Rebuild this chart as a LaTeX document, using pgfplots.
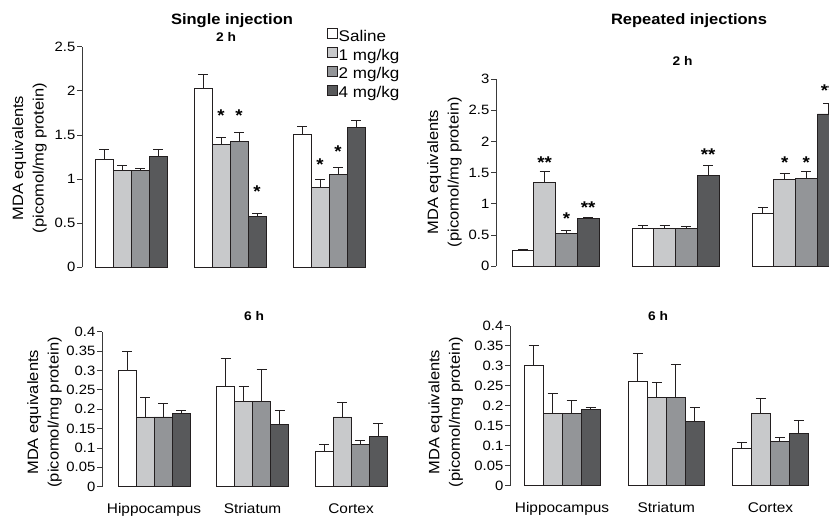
\documentclass[border=0pt]{standalone}
\usepackage{fontspec}
\setmainfont[FakeStretch=1.1]{Liberation Sans}
\usepackage{pgfplots}
\pgfplotsset{compat=1.18}
\definecolor{cA}{HTML}{FFFFFF}
\definecolor{cB}{HTML}{C8C9CB}
\definecolor{cC}{HTML}{939598}
\definecolor{cD}{HTML}{58595B}
\definecolor{edge}{HTML}{231F20}
\definecolor{axisc}{HTML}{3A3A3A}
\tikzset{sigstar/.style={font=\bfseries\fontsize{17}{17}\selectfont, inner sep=0pt, anchor=base, yshift=-9.9pt}}
\pgfplotsset{
  panel/.style={
    scale only axis, anchor=south west, clip=false,
    ybar=0pt,
    axis y line*=left, axis x line*=bottom,
    x axis line style={draw=none},
    y axis line style={draw=axisc, line width=0.8pt},
    xtick style={draw=none},
    ytick style={draw=axisc, line width=0.8pt},
    tick align=outside, major tick length=5pt,
    /pgf/number format/fixed, /pgf/number format/precision=2,
    /pgf/number format/assume math mode=true,
    scaled y ticks=false,
    yticklabel style={font=\fontsize{13.5}{13.5}\selectfont, inner sep=1.5pt},
    xticklabel style={font=\fontsize{14}{14}\selectfont, anchor=base, yshift=-22pt},
    ylabel={MDA equivalents\\(picomol/mg protein)},
    ylabel style={font=\fontsize{15}{20.5}\selectfont, align=center, inner sep=0pt, anchor=south},
  },
  sA/.style={fill=cA, draw=edge, line width=0.9pt,
    error bars/y dir=plus, error bars/y explicit,
    error bars/error bar style={draw=edge, line width=1pt},
    error bars/error mark options={draw=edge, line width=1pt, mark size=5pt, rotate=90}},
  sB/.style={sA, fill=cB},
  sC/.style={sA, fill=cC},
  sD/.style={sA, fill=cD},
}
\begin{document}
\begin{tikzpicture}
\useasboundingbox (0pt,0pt) rectangle (829pt,-515pt);
\clip (0pt,0pt) rectangle (829pt,-515pt);

% ---------- Single injection, 2 h ----------
\begin{axis}[panel, at={(82pt,-267.3pt)}, width=296.5pt, height=220.6pt,
  xmin=-0.495, xmax=2.5, ymin=0, ymax=2.5, ytick={0,0.5,1,1.5,2,2.5},
  xtick=\empty, bar width=18pt,
  ylabel style={at={(axis description cs:-0.118,0.495)}},
  legend style={at={(axis description cs:0.825,1.086)}, anchor=north west, draw=none, fill=none,
    font=\fontsize{15.5}{15.5}\selectfont, inner sep=0pt, row sep=0pt,
    nodes={inner sep=1.2pt, text height=12pt, text depth=4.5pt}},
  legend cell align=left,
  legend image code/.code={\draw[#1, line width=0.7pt] (0pt,-1pt) rectangle (10pt,9pt);},
]
\addplot[sA] table[x=x,y=y,y error=e] {
x y e
0 1.22 0.12
1 2.03 0.16
2 1.51 0.09
};
\addplot[sB] table[x=x,y=y,y error=e] {
x y e
0 1.10 0.05
1 1.39 0.08
2 0.91 0.08
};
\addplot[sC] table[x=x,y=y,y error=e] {
x y e
0 1.10 0.02
1 1.43 0.10
2 1.05 0.08
};
\addplot[sD] table[x=x,y=y,y error=e] {
x y e
0 1.26 0.08
1 0.58 0.03
2 1.59 0.07
};
\legend{Saline,1 mg/kg,2 mg/kg,4 mg/kg}
\node[sigstar] at (axis cs:0.9091,1.767) {*};
\node[sigstar] at (axis cs:1.0909,1.767) {*};
\node[sigstar] at (axis cs:1.2727,0.903) {*};
\node[sigstar] at (axis cs:1.9091,1.21) {*};
\node[sigstar] at (axis cs:2.0909,1.36) {*};
\end{axis}

% ---------- Repeated injections, 2 h ----------
\begin{axis}[panel, at={(496pt,-266.3pt)}, width=371.5pt, height=187.3pt,
  xmin=-0.496, xmax=2.6, ymin=0, ymax=3, ytick={0,0.5,1,1.5,2,2.5,3},
  xtick=\empty, bar width=21.75pt,
  ylabel style={at={(axis description cs:-0.0915,0.503)}},
]
\addplot[sA] table[x=x,y=y,y error=e] {
x y e
0 0.25 0.015
1 0.60 0.06
2 0.85 0.09
};
\addplot[sB] table[x=x,y=y,y error=e] {
x y e
0 1.35 0.17
1 0.61 0.05
2 1.39 0.09
};
\addplot[sC] table[x=x,y=y,y error=e] {
x y e
0 0.52 0.05
1 0.61 0.03
2 1.40 0.12
};
\addplot[sD] table[x=x,y=y,y error=e] {
x y e
0 0.77 0.01
1 1.45 0.16
2 2.44 0.17
};
\node[sigstar] at (axis cs:-0.0906,1.73) {**};
\node[sigstar] at (axis cs:0.0906,0.83) {*};
\node[sigstar] at (axis cs:0.272,1.0) {**};
\node[sigstar] at (axis cs:1.272,1.85) {**};
\node[sigstar] at (axis cs:1.9094,1.72) {*};
\node[sigstar] at (axis cs:2.0906,1.72) {*};
\node[sigstar] at (axis cs:2.272,2.88) {**};
\end{axis}

% ---------- Single injection, 6 h ----------
\begin{axis}[panel, at={(102pt,-486.7pt)}, width=298.3pt, height=155pt,
  xmin=-0.528, xmax=2.5, ymin=0, ymax=0.4,
  ytick={0,0.05,0.1,0.15,0.2,0.25,0.3,0.35,0.4},
  xtick={0,1,2}, xticklabels={Hippocampus,Striatum,Cortex}, bar width=18pt,
  ylabel style={at={(axis description cs:-0.134,0.48)}},
]
\addplot[sA] table[x=x,y=y,y error=e] {
x y e
0 0.30 0.05
1 0.26 0.07
2 0.092 0.017
};
\addplot[sB] table[x=x,y=y,y error=e] {
x y e
0 0.18 0.05
1 0.22 0.038
2 0.18 0.038
};
\addplot[sC] table[x=x,y=y,y error=e] {
x y e
0 0.18 0.034
1 0.22 0.083
2 0.11 0.01
};
\addplot[sD] table[x=x,y=y,y error=e] {
x y e
0 0.19 0.006
1 0.16 0.036
2 0.13 0.032
};
\end{axis}

% ---------- Repeated injections, 6 h ----------
\begin{axis}[panel, at={(510pt,-485.7pt)}, width=312.6pt, height=160pt,
  xmin=-0.499, xmax=2.5, ymin=0, ymax=0.4,
  ytick={0,0.05,0.1,0.15,0.2,0.25,0.3,0.35,0.4},
  xtick={0,1,2}, xticklabels={Hippocampus,Striatum,Cortex}, bar width=19pt,
  ylabel style={at={(axis description cs:-0.150,0.46)}},
]
\addplot[sA] table[x=x,y=y,y error=e] {
x y e
0 0.30 0.05
1 0.26 0.07
2 0.092 0.017
};
\addplot[sB] table[x=x,y=y,y error=e] {
x y e
0 0.18 0.05
1 0.22 0.038
2 0.18 0.038
};
\addplot[sC] table[x=x,y=y,y error=e] {
x y e
0 0.18 0.034
1 0.22 0.083
2 0.11 0.01
};
\addplot[sD] table[x=x,y=y,y error=e] {
x y e
0 0.19 0.006
1 0.16 0.036
2 0.13 0.032
};
\end{axis}

% ---------- titles ----------
\node[anchor=base, inner sep=0pt, font=\bfseries\fontsize{15}{15}\selectfont] at (232pt,-24pt) {Single injection};
\node[anchor=base, inner sep=0pt, font=\bfseries\fontsize{15}{15}\selectfont] at (689pt,-24pt) {Repeated injections};
\node[anchor=base, inner sep=0pt, font=\bfseries\fontsize{12.5}{12.5}\selectfont] at (226pt,-41.7pt) {2 h};
\node[anchor=base, inner sep=0pt, font=\bfseries\fontsize{12.5}{12.5}\selectfont] at (682.5pt,-65pt) {2 h};
\node[anchor=base, inner sep=0pt, font=\bfseries\fontsize{12.5}{12.5}\selectfont] at (254pt,-320pt) {6 h};
\node[anchor=base, inner sep=0pt, font=\bfseries\fontsize{12.5}{12.5}\selectfont] at (658pt,-320pt) {6 h};
\end{tikzpicture}
\end{document}
